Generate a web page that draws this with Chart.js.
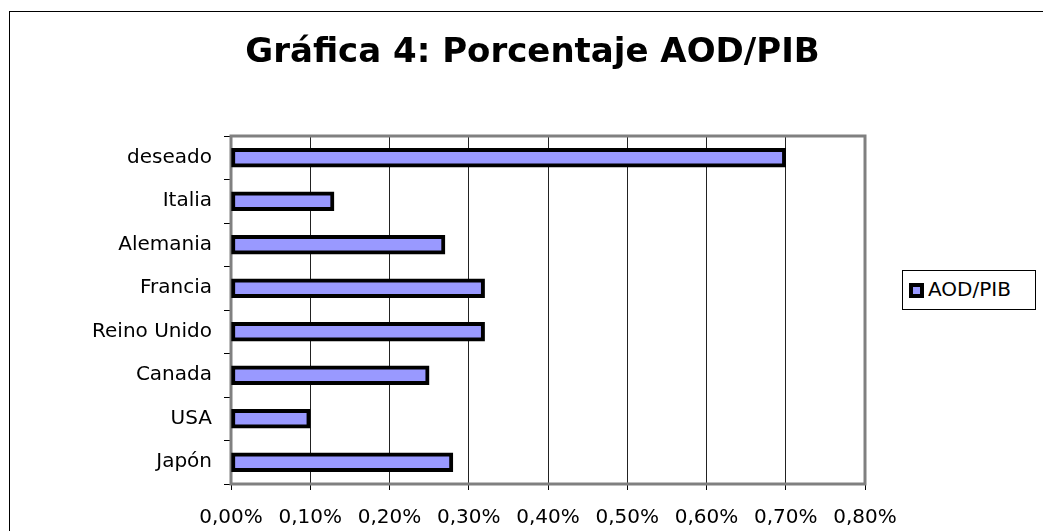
<!DOCTYPE html>
<html>
<head>
<meta charset="utf-8">
<script src="https://cdn.jsdelivr.net/npm/chart.js@4/dist/chart.umd.min.js"></script>
<style>
  html, body { margin:0; padding:0; background:#fff; overflow:hidden; }
  #wrap { position:relative; width:1043px; height:531px; overflow:hidden; }
  #frame { position:absolute; left:9px; top:11px; width:1100px; height:600px; border:1px solid #000; box-sizing:border-box; pointer-events:none; }
  #legend { position:absolute; left:902px; top:270px; width:134px; height:40px; border:1px solid #000; box-sizing:border-box; background:#fff;
            font-family:"DejaVu Sans", Verdana, sans-serif; font-size:20px; color:#000; }
  #legend .mk { position:absolute; left:6px; top:12px; width:15px; height:15px; box-sizing:border-box; border:4px solid #000; background:#9999ff; }
  #legend .tx { position:absolute; left:25px; top:6px; line-height:24px; }
</style>
</head>
<body>
<div id="wrap">
  <canvas id="c" width="1043" height="531"></canvas>
  <div id="frame"></div>
  <div id="legend"><span class="mk"></span><span class="tx" id="legtx"></span></div>
</div>
<script>
const titleText = "Gráfica 4: Porcentaje AOD/PIB";
const seriesName = "AOD/PIB";
const categories = ["deseado", "Italia", "Alemania", "Francia", "Reino Unido", "Canada", "USA", "Japón"];
const values = [0.70, 0.13, 0.27, 0.32, 0.32, 0.25, 0.10, 0.28];
const xMin = 0, xMax = 0.8, xStep = 0.1;

document.getElementById('legtx').textContent = seriesName;

const FONT = '"DejaVu Sans", Verdana, sans-serif';

const framePlugin = {
  id: 'framePlugin',
  beforeDatasetsDraw(chart) {
    const a = chart.chartArea, ctx = chart.ctx;
    ctx.save();
    ctx.strokeStyle = '#808080';
    ctx.lineWidth = 3;
    ctx.strokeRect(a.left, a.top, a.right - a.left, a.bottom - a.top);
    ctx.restore();
  },
  afterDraw(chart) {
    const ctx = chart.ctx;
    ctx.save();
    ctx.font = 'bold 34px ' + FONT;
    ctx.fillStyle = '#000';
    ctx.textAlign = 'center';
    ctx.textBaseline = 'alphabetic';
    ctx.fillText(titleText, 532.5, 62);
    ctx.restore();
  }
};

new Chart(document.getElementById('c'), {
  type: 'bar',
  data: {
    labels: categories,
    datasets: [{
      label: seriesName,
      data: values,
      backgroundColor: '#9999ff',
      borderColor: '#000',
      borderWidth: 4,
      borderSkipped: false,
      barThickness: 19
    }]
  },
  options: {
    indexAxis: 'y',
    responsive: false,
    animation: false,
    events: [],
    layout: { padding: { top: 136, right: 178, left: 0, bottom: 0 } },
    plugins: { legend: { display: false }, title: { display: false }, tooltip: { enabled: false } },
    scales: {
      x: {
        min: xMin, max: xMax,
        afterFit: s => { s.height = 47; },
        ticks: {
          stepSize: xStep,
          color: '#000',
          font: { family: FONT, size: 20 },
          padding: 16,
          maxRotation: 0,
          autoSkip: false,
          callback: v => v.toFixed(2).replace('.', ',') + '%'
        },
        grid: { color: '#222', lineWidth: 1, tickLength: 6, drawTicks: true, tickColor: '#000' },
        border: { display: false }
      },
      y: {
        afterFit: s => { s.width = 231; },
        ticks: { color: '#000', font: { family: FONT, size: 20 }, padding: 12 },
        grid: { offset: true, drawOnChartArea: false, drawTicks: true, tickLength: 7, color: '#000', lineWidth: 1 },
        border: { display: false }
      }
    }
  },
  plugins: [framePlugin]
});
</script>
</body>
</html>
